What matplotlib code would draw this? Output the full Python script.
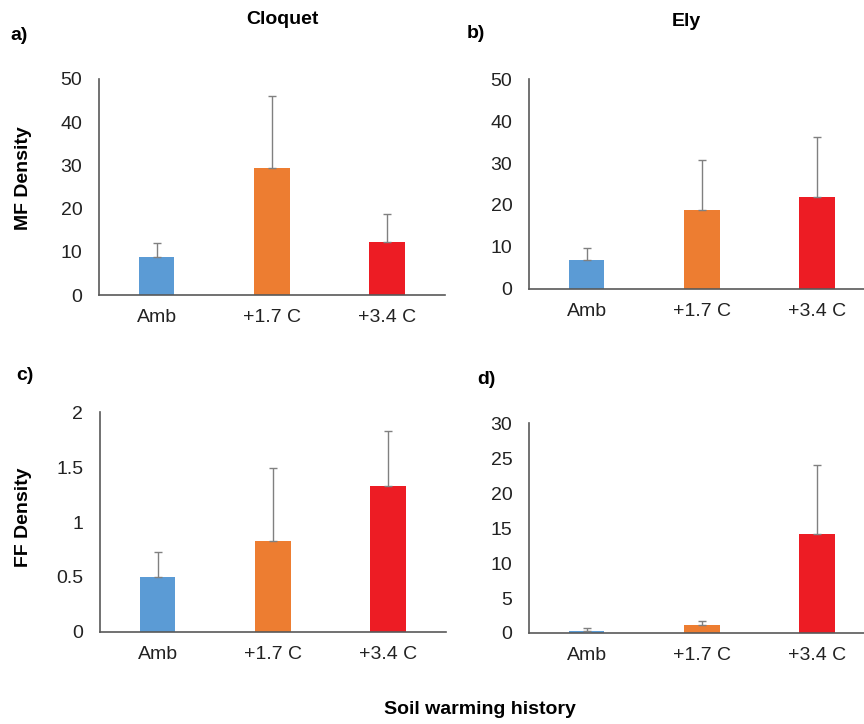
import matplotlib
matplotlib.use("Agg")
import matplotlib.pyplot as plt

plt.rcParams['font.family'] = ['Liberation Sans', 'DejaVu Sans']

# categories and bar colours
categories = ["Amb", "+1.7 C", "+3.4 C"]
bar_colors = ["#5B9BD5", "#ED7D31", "#ED1C24"]

# means and upper error
mf_cloquet = [8.7, 29.3, 12.2]
mf_cloquet_err = [3.4, 16.8, 6.5]
mf_ely = [6.9, 18.8, 21.8]
mf_ely_err = [2.8, 12.0, 14.4]
ff_cloquet = [0.50, 0.83, 1.33]
ff_cloquet_err = [0.23, 0.66, 0.50]
ff_ely = [0.35, 1.1, 14.2]
ff_ely_err = [0.4, 0.6, 9.8]

fig = plt.figure(figsize=(8.64, 7.24), dpi=100)

def draw_panel(rect, vals, errs, ymax, step, ticklabels):
    ax = fig.add_axes(rect)
    x = list(range(len(categories)))
    ax.bar(x, vals, width=0.31, color=bar_colors, zorder=2)
    ax.errorbar(x, vals, yerr=[[0] * len(errs), errs], fmt="none",
                ecolor="#808080", elinewidth=1, capsize=3, capthick=1, zorder=3)
    ax.set_xlim(-0.5, 2.5)
    ax.set_ylim(0, ymax)
    ticks = [i * step for i in range(int(round(ymax / step)) + 1)]
    ax.set_yticks(ticks)
    ax.set_yticklabels(ticklabels)
    ax.set_xticks(x)
    ax.set_xticklabels(categories)
    ax.tick_params(axis="both", length=0, labelsize=14, colors="#222222")
    ax.tick_params(axis="y", pad=12)
    ax.tick_params(axis="x", pad=10)
    for s in ["top", "right"]:
        ax.spines[s].set_visible(False)
    for s in ["left", "bottom"]:
        ax.spines[s].set_color("#595959")
        ax.spines[s].set_linewidth(1.2)
    return ax

draw_panel([0.1146, 0.5925, 0.400, 0.2984], mf_cloquet, mf_cloquet_err, 50, 10,
           ["0", "10", "20", "30", "40", "50"])
draw_panel([0.6123, 0.6013, 0.400, 0.2892], mf_ely, mf_ely_err, 50, 10,
           ["0", "10", "20", "30", "40", "50"])
draw_panel([0.1157, 0.1275, 0.400, 0.3030], ff_cloquet, ff_cloquet_err, 2, 0.5,
           ["0", "0.5", "1", "1.5", "2"])
draw_panel([0.6123, 0.1257, 0.400, 0.2896], ff_ely, ff_ely_err, 30, 5,
           ["0", "5", "10", "15", "20", "25", "30"])

# panel letters and titles
fig.text(10 / 864, 1 - 35 / 724, "a)", fontsize=14, fontweight="bold", va="center")
fig.text(467 / 864, 1 - 33 / 724, "b)", fontsize=14, fontweight="bold", va="center")
fig.text(16 / 864, 1 - 376 / 724, "c)", fontsize=14, fontweight="bold", va="center")
fig.text(477 / 864, 1 - 380 / 724, "d)", fontsize=14, fontweight="bold", va="center")
fig.text(282 / 864, 1 - 19 / 724, "Cloquet", fontsize=14, fontweight="bold",
         ha="center", va="center")
fig.text(686 / 864, 1 - 22 / 724, "Ely", fontsize=14, fontweight="bold",
         ha="center", va="center")

# axis labels
fig.text(24 / 864, 1 - 178 / 724, "MF Density", fontsize=14, fontweight="bold",
         rotation=90, ha="center", va="center")
fig.text(24 / 864, 1 - 517 / 724, "FF Density", fontsize=14, fontweight="bold",
         rotation=90, ha="center", va="center")
fig.text(480 / 864, 1 - 710 / 724, "Soil warming history", fontsize=14,
         fontweight="bold", ha="center", va="center")

fig.savefig("out.png", dpi=100)
